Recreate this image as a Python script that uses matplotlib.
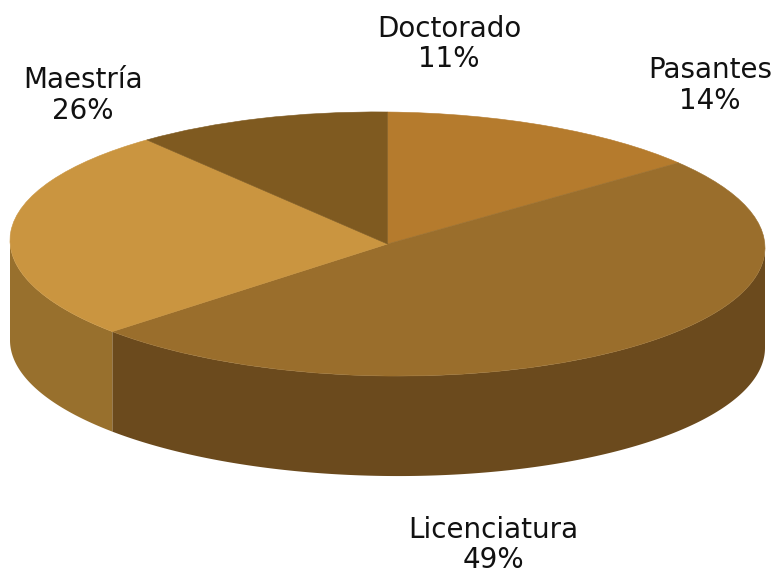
#!/usr/bin/env python3
"""3D style pie of education levels, built on ax.pie with a squashed transform."""
import numpy as np
import matplotlib
matplotlib.use('Agg')
import matplotlib.pyplot as plt
from matplotlib.transforms import Affine2D

categories = ['Pasantes', 'Licenciatura', 'Maestría', 'Doctorado']
values = [14, 49, 26, 11]
top_colors = ['#B57B2D', '#9A6E2C', '#CA9540', '#7F5A20']
side_colors = ['#8E6024', '#6B4A1D', '#98702D', '#5F4318']
label_pos = [(710, 85.5), (493, 545), (83, 95.5), (449, 44)]

CX, CY = 387.5, 244
RX, RY = 377.5, 132
TILT = 0.01  # the disc leans a little, right side lower than left
DEPTH = 100

fig = plt.figure(figsize=(7.77, 5.73), dpi=100)
ax = fig.add_axes([0, 0, 1, 1])

wedges, _ = ax.pie(values, colors=top_colors, startangle=90, counterclock=False,
                   wedgeprops={'linewidth': 0})
ax.set_aspect('auto')
ax.set_xlim(0, 777)
ax.set_ylim(573, 0)
ax.axis('off')

# squash the unit pie into an ellipse (y axis of the axes points down)
disc = Affine2D(np.array([[RX, 0, CX], [TILT * RX, -RY, CY], [0, 0, 1]]))
for w, col in zip(wedges, top_colors):
    w.set_transform(disc + ax.transData)
    w.set_zorder(3)
    w.set_edgecolor(col)  # hides the pale seam between slices
    w.set_linewidth(0.4)

# side walls: only the part of the rim on the front half shows
for w, col in zip(wedges, side_colors):
    t = np.radians(np.linspace(w.theta1, w.theta2, 400))
    t = t[np.sin(t) <= 0]
    if len(t) < 2:
        continue
    rim = disc.transform(np.c_[np.cos(t), np.sin(t)])
    x, y = rim[:, 0], rim[:, 1]
    ax.fill(np.r_[x, x[::-1]], np.r_[y, y[::-1] + DEPTH], color=col, lw=0, zorder=2)

for name, v, (x, y) in zip(categories, values, label_pos):
    ax.text(x, y, f'{name}\n{v}%', ha='center', va='center', fontsize=20,
            color='#111111', linespacing=1.12, zorder=5)

fig.savefig('out.png', dpi=100)
